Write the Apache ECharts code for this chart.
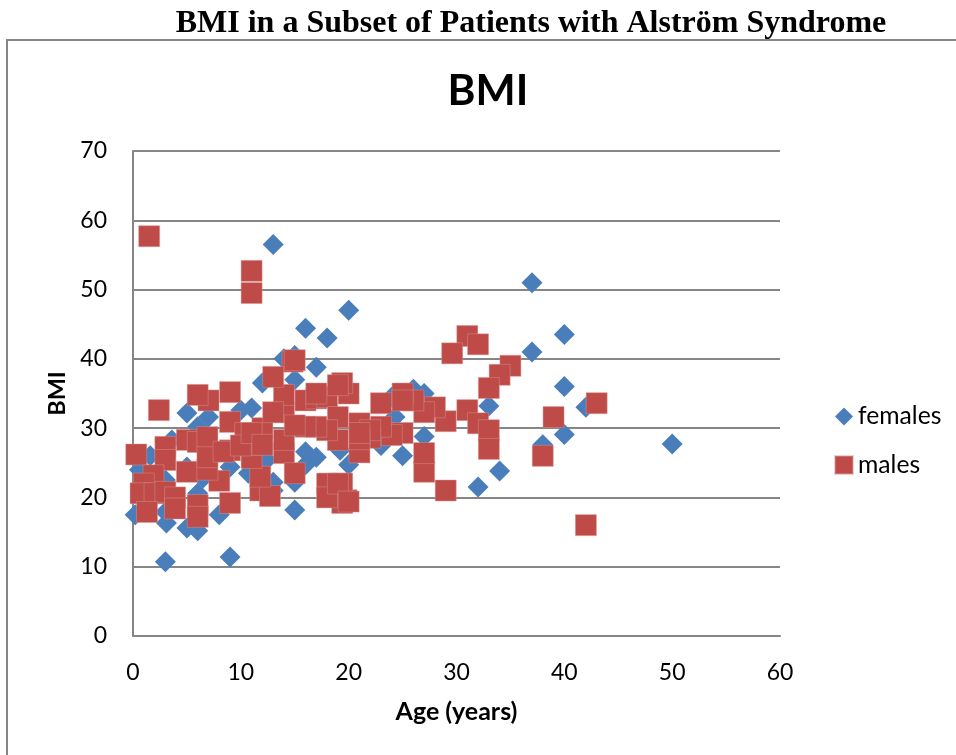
<!DOCTYPE html>
<html><head><meta charset="utf-8">
<script src="https://cdn.jsdelivr.net/npm/echarts@6/dist/echarts.min.js"></script>
<style>html,body{margin:0;padding:0;background:#fff}#c{width:956px;height:755px}</style>
</head><body><div id="c"></div>
<script>
const figureTitle = 'BMI in a Subset of Patients with Alström Syndrome';
const chartTitle = 'BMI';
const xName = 'Age (years)';
const yName = 'BMI';
const females = [[13,56.5],[37,51],[20,47],[16,44.4],[18,43],[40,43.5],[37,41],[14,40],[15,40.5],[17,38.8],[12,36.5],[40,36],[15,37],[33,33.2],[42,33],[40,29.1],[50,27.7],[38,27.6],[34,23.8],[32,21.5],[27,28.8],[25,26],[23,27.5],[26,35.6],[27,35],[24,34.5],[24.3,31.6],[27,26.5],[20,24.7],[15,18.2],[3,10.7],[9,11.4],[5,32.2],[11,32.9],[10,32.6],[7,31.6],[6,30.2],[3.6,28.3],[1.6,26],[0.6,24],[3,22.5],[6,20.6],[8,17.5],[0.2,17.5],[3.1,16.3],[5,15.6],[6,15.2],[3,17.9],[16,26.6],[17,25.8],[16,24.7],[15,22.2],[13,22.2],[10.7,23.5],[13,21],[6.5,22.8],[5,24.4],[9,24.4],[12.4,25.4],[19.2,26.8]];
const males = [[1.5,57.7],[11,52.7],[11,49.5],[14.8,39.6],[31,43.3],[32,42.1],[29.6,40.8],[35,39],[34,37.7],[33,35.8],[43,33.6],[31,32.6],[32,30.7],[33,29.7],[33,27],[39,31.6],[38,26],[42,16],[29,21],[27,23.7],[27,26.4],[29,31],[28,33],[27,32.3],[26,34],[25,35],[25,34],[23,33.6],[25,29.3],[24,29],[23,30.2],[22,28.6],[21,26.5],[21,30.7],[22,29.7],[20,35],[19.4,36.5],[19.8,19.6],[19.4,19.2],[19.4,22],[2.4,32.6],[0.3,26.2],[3,27.3],[3,25.4],[1.9,23.2],[1,22],[0.7,20.6],[2,20.6],[3,20.8],[3.9,20],[3.9,18.4],[1.3,17.9],[5,23.7],[5,28.3],[6,28],[6,18.9],[6,17.2],[9,19.2],[8,22.4],[6.9,24],[6.9,28.7],[6.9,25.8],[9,30.9],[9,26.8],[8.4,26.6],[7,34],[6,34.8],[9,35.2],[11.8,21],[12.7,20.2],[11.8,23],[11,25.7],[11,27.6],[10.4,29.3],[12,30],[10,27.5],[14,26.4],[14,28.3],[15,23.5],[14,32.3],[14,34.8],[13,32.3],[16,34],[17,34.3],[18,34.5],[19,31.6],[19,28.3],[18,29.7],[17,30.2],[16,30.2],[15,30.4],[21,28.4],[21,29.3],[18,22],[18,20],[19,22],[15,39.8],[13,37.4],[17,35],[19,36.2],[20,19.4],[11,29.3],[12,27.6]];
const chart = echarts.init(document.getElementById('c'), null, {renderer:'canvas'});
const font = 'Lato, "Open Sans", sans-serif';
chart.setOption({
  animation:false,
  backgroundColor:'#fff',
  title:[
    {text:figureTitle,left:526,top:3,textAlign:'center',textStyle:{fontFamily:'"Liberation Serif",serif',fontWeight:'bold',fontSize:32,color:'#000'}},
    {text:chartTitle,left:483,top:65,textAlign:'center',textStyle:{fontFamily:font,fontWeight:'bold',fontSize:42.5,color:'#000'}}
  ],
  graphic:[{type:'polyline',silent:true,shape:{points:[[7,755],[7,40],[956,40]]},style:{stroke:'#868686',lineWidth:2,fill:null}}],
  grid:{left:133,right:176,top:151,bottom:119,containLabel:false},
  legend:{orient:'vertical',left:829,top:399,itemWidth:18,itemHeight:18,itemGap:23.5,
    textStyle:{fontFamily:font,fontSize:24.7,color:'#000'},
    data:[{name:'females',icon:'diamond'},{name:'males',icon:'rect'}]},
  xAxis:{type:'value',min:0,max:60,interval:10,name:xName,nameLocation:'middle',nameGap:63,
    nameTextStyle:{fontFamily:font,fontWeight:'bold',fontSize:25,color:'#000'},
    axisLine:{onZero:false,lineStyle:{color:'#868686',width:2}},axisTick:{show:false},
    axisLabel:{fontFamily:font,fontSize:23,color:'#000',margin:25},splitLine:{show:false}},
  yAxis:{type:'value',min:0,max:70,interval:10,name:yName,nameLocation:'middle',nameGap:64,
    nameTextStyle:{fontFamily:font,fontWeight:'bold',fontSize:23.5,color:'#000'},
    axisLine:{show:true,onZero:false,lineStyle:{color:'#868686',width:2}},axisTick:{show:false},
    axisLabel:{fontFamily:font,fontSize:23,color:'#000',margin:26},splitLine:{show:true,lineStyle:{color:'#868686',width:2}}},
  series:[
    {name:'females',type:'scatter',symbol:'diamond',symbolSize:21,data:females,itemStyle:{color:'#4a7ebb',opacity:1}},
    {name:'males',type:'scatter',symbol:'rect',symbolSize:21,data:males,itemStyle:{color:'#be4b48',opacity:1,borderColor:'rgba(217,150,148,0.45)',borderWidth:1}}
  ]
});
</script></body></html>
